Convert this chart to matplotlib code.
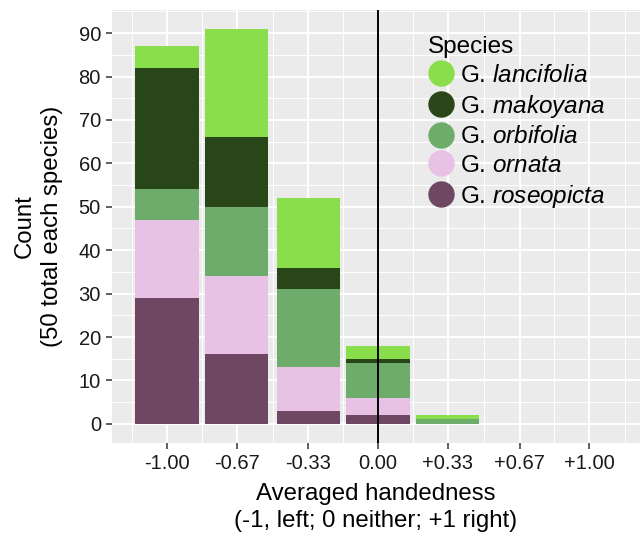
"""Stacked bar chart of averaged handedness by species."""
import matplotlib
matplotlib.use("Agg")
import matplotlib.pyplot as plt
from matplotlib.lines import Line2D

# data: counts per handedness bin, one list per species
handedness = ["-1.00", "-0.67", "-0.33", "0.00", "+0.33"]
tick_labels = ["-1.00", "-0.67", "-0.33", "0.00", "+0.33", "+0.67", "+1.00"]
species = ["lancifolia", "makoyana", "orbifolia", "ornata", "roseopicta"]
lancifolia = [5, 25, 16, 3, 1]
makoyana = [28, 16, 5, 1, 0]
orbifolia = [7, 16, 18, 8, 1]
ornata = [18, 18, 10, 4, 0]
roseopicta = [29, 16, 3, 2, 0]
colors = ["#8ADE4B", "#284617", "#6EAC6C", "#E8C2E5", "#6E4862"]

plt.rcParams["font.family"] = ["Liberation Sans", "DejaVu Sans"]
plt.rcParams["mathtext.fontset"] = "custom"
plt.rcParams["mathtext.rm"] = "Liberation Sans"
plt.rcParams["mathtext.it"] = "Liberation Sans:italic"

fig = plt.figure(figsize=(6.4, 5.33), dpi=100)
ax = fig.add_axes([0.175, 0.169, 0.825, 0.812])
ax.set_facecolor("#EBEBEB")

x = [float(h) for h in handedness]
series = [lancifolia, makoyana, orbifolia, ornata, roseopicta]

# stack from the bottom: roseopicta first
bottom = [0] * len(x)
for name, vals, col in reversed(list(zip(species, series, colors))):
    ax.bar(x, vals, width=0.3, bottom=bottom, color=col, zorder=3)
    bottom = [b + v for b, v in zip(bottom, vals)]

ax.axvline(0, color="black", lw=1.4, zorder=4)

# grid like ggplot
tick_pos = [float(t) for t in tick_labels]
ax.set_xticks(tick_pos)
ax.set_xticklabels(tick_labels)
minor_x = [-7 / 6, -5 / 6, -0.5, -1 / 6, 1 / 6, 0.5, 5 / 6, 7 / 6]
ax.set_xticks(minor_x, minor=True)
ax.set_yticks(range(0, 91, 10))
ax.set_yticks(range(5, 96, 10), minor=True)
ax.grid(which="major", color="white", lw=1.4, zorder=0)
ax.grid(which="minor", color="white", lw=0.7, zorder=0)
ax.set_axisbelow(True)

ax.set_xlim(-1.26, 1.24)
ax.set_ylim(-4.4, 95.3)
for s in ax.spines.values():
    s.set_visible(False)
ax.tick_params(which="major", length=4, width=1.1, color="#333333",
               labelsize=14.5, labelcolor="#1a1a1a", pad=4)
ax.tick_params(which="minor", length=0)

ax.set_xlabel("Averaged handedness\n(-1, left; 0 neither; +1 right)",
              fontsize=17.3, labelpad=7, linespacing=1.3)
ax.set_ylabel("Count\n(50 total each species)", fontsize=17.3,
              labelpad=11, linespacing=1.3)

handles = [Line2D([], [], marker="o", ls="", markersize=18,
                  markerfacecolor=c, markeredgecolor=c) for c in colors]
labels = ["G. $\\mathit{" + s + "}$" for s in species]
leg = ax.legend(handles, labels, title="Species", loc="upper left",
                bbox_to_anchor=(0.557, 0.99), frameon=False, fontsize=17.5,
                title_fontsize=17.5, handletextpad=0.2, labelspacing=0.26,
                handlelength=1.1)
leg._legend_box.align = "left"

fig.savefig("out.png", dpi=100)
